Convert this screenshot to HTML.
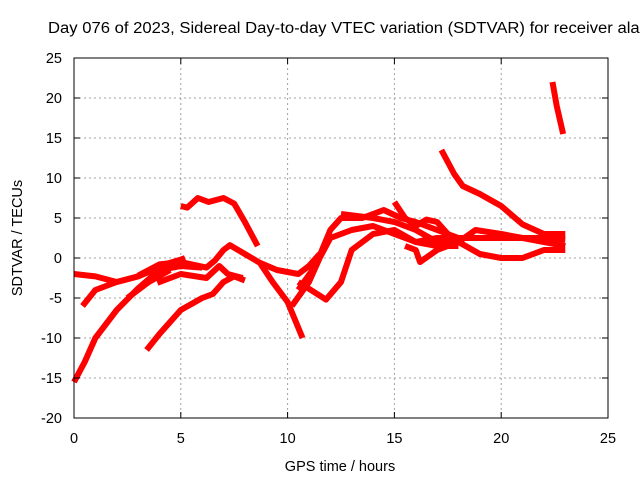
<!DOCTYPE html>
<html><head><meta charset="utf-8"><style>
body{margin:0;background:#fff}
svg{display:block;font-family:"Liberation Sans",sans-serif}
</style></head><body>
<svg id="c" width="640" height="480">
<text x="48" y="33" font-size="15.5" textLength="600" lengthAdjust="spacingAndGlyphs">Day 076 of 2023, Sidereal Day-to-day VTEC variation (SDTVAR) for receiver alac</text>
<text x="340" y="471" font-size="14.5" text-anchor="middle">GPS time / hours</text>
<text x="0" y="0" font-size="14.5" text-anchor="middle" transform="translate(22,238) rotate(-90)">SDTVAR / TECUs</text>
<g id="grid"></g>
<g id="marks"></g>
<rect x="74" y="58" width="534" height="360" fill="none" stroke="#000" stroke-width="1"/>
<g id="ticks"></g>
</svg>
<script>
const xTicks=[0,5,10,15,20,25];
const yTicks=[-20,-15,-10,-5,0,5,10,15,20,25];
const trackA=[[0,-2],[1,-2.3],[2,-3],[3,-2.3],[4,-1],[5,-0.2],[5.2,0]];
const trackB=[[3,-2.2],[4,-0.8],[5,-0.5],[6.2,-1.2],[6.6,-0.3],[7,1],[7.3,1.6],[8,0.5],[8.7,-0.6],[9.3,-3],[10,-5.5],[10.7,-10]];
const trackB2=[[8.7,-0.6],[9.5,-1.5],[10.5,-2],[11,-1],[11.5,0.5]];
const trackC=[[3.9,-3.1],[5,-2],[6.2,-2.5],[6.8,-1],[7.2,-2],[7.9,-2.5]];
const trackD=[[0,-15.5],[0.5,-13],[1,-10],[2,-6.5],[3,-3.8],[4,-1.5],[5,-1],[6,-1.2]];
const trackE=[[0.4,-6],[1,-4],[2,-3],[3,-2.3],[4,-1.2]];
const trackE2=[[2.5,-5],[3.5,-3],[4.5,-1.5]];
const trackF=[[3.4,-11.5],[4,-9.5],[5,-6.5],[6,-5],[6.5,-4.5],[7,-3],[7.5,-2.3],[8,-2.8]];
const trackG=[[5,6.5],[5.3,6.3],[5.8,7.5],[6.3,7],[7,7.5],[7.5,6.8],[8,4.5],[8.6,1.5]];
const trackH=[[10.2,-6],[11,-3],[11.5,0],[12,2.5],[13,3.5],[14,4],[15,3],[16,2],[17,1.5],[18,1.5]];
const trackI=[[10.5,-4],[11.3,-1],[12,3.5],[12.5,5],[13.5,5],[14.5,6],[15.3,5],[16,4.5],[17,3.5],[18,2.5]];
const trackJ=[[10.5,-3],[11.8,-5.2],[12.5,-3],[13,1],[13.5,2],[14,3],[15,3.5],[16,2],[17,2.5],[18,2.5],[20,2.5],[22,2.5],[23,2.3]];
const trackK=[[15,7],[15.5,5],[16,4],[16.5,4.8],[17,4.5],[17.5,3],[18,2],[19,0.5],[20,0],[21,0],[22,1],[23,1]];
const trackL=[[17.2,13.5],[17.8,10.5],[18.2,9],[19,8],[20,6.5],[21,4.2],[22,3],[23,3]];
const trackM=[[22.4,22],[22.6,19],[22.9,15.5]];
const trackN=[[15.5,1.5],[16,1],[16.2,-0.5],[17,1],[18,2],[18.8,3.5],[20,3],[21,2.5],[22,2],[23,1.5]];
const trackO=[[12.5,5.5],[14,5],[15,4.5],[16,3.5],[17,2],[18,2]];
const tracks=[trackA,trackB,trackB2,trackC,trackD,trackE,trackE2,trackF,trackG,trackH,trackI,trackJ,trackK,trackL,trackM,trackN,trackO];
const X=v=>74+v*534/25, Y=v=>418-(v+20)*8;
const NS="http://www.w3.org/2000/svg";
function mk(t,a,p){const e=document.createElementNS(NS,t);for(const k in a)e.setAttribute(k,a[k]);p.appendChild(e);return e;}
const g=document.getElementById('grid'),tk=document.getElementById('ticks'),m=document.getElementById('marks');
xTicks.forEach(v=>{
 if(v>0&&v<25){const l=mk('line',{x1:X(v),x2:X(v),y1:58,y2:418,stroke:'#a0a0a0','stroke-dasharray':'2,3'},g);
 }
 mk('line',{x1:X(v),x2:X(v),y1:418,y2:412,stroke:'#000'},tk);mk('line',{x1:X(v),x2:X(v),y1:58,y2:64,stroke:'#000'},tk);
 const t=mk('text',{x:X(v),y:443,'font-size':14.5,'text-anchor':'middle'},tk);t.textContent=v;
 
});
yTicks.forEach(v=>{
 if(v>-20&&v<25){const l=mk('line',{x1:74,x2:608,y1:Y(v),y2:Y(v),stroke:'#a0a0a0','stroke-dasharray':'2,3'},g);
 }
 mk('line',{x1:74,x2:80,y1:Y(v),y2:Y(v),stroke:'#000'},tk);mk('line',{x1:602,x2:608,y1:Y(v),y2:Y(v),stroke:'#000'},tk);
 const t=mk('text',{x:62,y:Y(v)+5,'font-size':14.5,'text-anchor':'end'},tk);t.textContent=v;
 
});
tracks.forEach(tr=>{
 const p=mk('polyline',{points:tr.map(d=>X(d[0])+','+Y(d[1])).join(' '),fill:'none',stroke:'#ff0000','stroke-width':6,'stroke-linejoin':'round'},m);
 
});
</script>
</body></html>
